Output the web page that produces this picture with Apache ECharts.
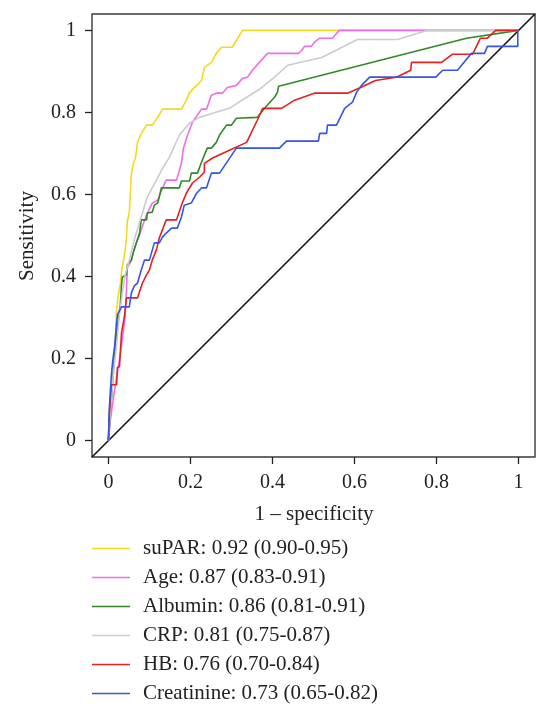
<!DOCTYPE html>
<html>
<head>
<meta charset="utf-8">
<script src="https://cdn.jsdelivr.net/npm/echarts@6/dist/echarts.min.js"></script>
<style>
html,body{margin:0;padding:0;background:#fff;}
#chart{width:550px;height:715px;}
</style>
</head>
<body>
<div id="chart"></div>
<script>
// ---- data ----
var seriesNames = [
  'suPAR: 0.92 (0.90-0.95)',
  'Age: 0.87 (0.83-0.91)',
  'Albumin: 0.86 (0.81-0.91)',
  'CRP: 0.81 (0.75-0.87)',
  'HB: 0.76 (0.70-0.84)',
  'Creatinine: 0.73 (0.65-0.82)'
];
var tickValues = [0, 0.2, 0.4, 0.6, 0.8, 1];
var diagonal = [[-0.04, -0.04], [1.04, 1.04]];

var suPAR = [[0,0],[0.002,0.051],[0.007,0.100],[0.012,0.173],[0.017,0.246],[0.020,0.319],[0.024,0.355],[0.029,0.380],[0.032,0.411],[0.037,0.440],[0.041,0.465],[0.044,0.494],[0.046,0.533],[0.051,0.557],[0.054,0.611],[0.056,0.652],[0.061,0.676],[0.066,0.689],[0.071,0.727],[0.080,0.749],[0.093,0.769],[0.107,0.769],[0.120,0.788],[0.132,0.808],[0.178,0.808],[0.190,0.830],[0.198,0.849],[0.215,0.866],[0.227,0.878],[0.234,0.910],[0.251,0.922],[0.263,0.944],[0.276,0.959],[0.302,0.959],[0.327,1],[1,1]];

var age = [[0,0],[0.005,0.051],[0.010,0.088],[0.017,0.136],[0.027,0.197],[0.037,0.270],[0.041,0.307],[0.044,0.367],[0.046,0.421],[0.056,0.440],[0.061,0.460],[0.068,0.482],[0.076,0.501],[0.083,0.523],[0.093,0.550],[0.102,0.569],[0.107,0.579],[0.120,0.586],[0.132,0.616],[0.141,0.635],[0.166,0.635],[0.178,0.676],[0.183,0.713],[0.193,0.745],[0.205,0.776],[0.227,0.808],[0.239,0.808],[0.251,0.842],[0.263,0.847],[0.278,0.847],[0.290,0.861],[0.312,0.866],[0.327,0.883],[0.339,0.886],[0.351,0.903],[0.368,0.922],[0.388,0.944],[0.463,0.944],[0.471,0.951],[0.478,0.961],[0.495,0.961],[0.502,0.971],[0.515,0.981],[0.546,0.981],[0.563,1],[1,1]];

var albumin = [[0,0],[0.005,0.075],[0.010,0.136],[0.015,0.209],[0.020,0.258],[0.024,0.294],[0.029,0.331],[0.032,0.380],[0.034,0.399],[0.044,0.404],[0.046,0.428],[0.056,0.440],[0.061,0.460],[0.068,0.482],[0.076,0.506],[0.080,0.538],[0.093,0.538],[0.095,0.555],[0.107,0.557],[0.112,0.574],[0.120,0.579],[0.124,0.594],[0.129,0.616],[0.173,0.616],[0.178,0.633],[0.198,0.633],[0.202,0.652],[0.217,0.652],[0.229,0.684],[0.241,0.713],[0.251,0.713],[0.263,0.727],[0.271,0.745],[0.288,0.769],[0.300,0.769],[0.312,0.786],[0.363,0.788],[0.385,0.815],[0.405,0.837],[0.412,0.849],[0.415,0.864],[0.873,0.981],[1,1]];

var crp = [[0,0],[0.005,0.075],[0.012,0.161],[0.020,0.234],[0.027,0.307],[0.034,0.360],[0.041,0.404],[0.051,0.440],[0.063,0.489],[0.076,0.533],[0.095,0.594],[0.117,0.635],[0.132,0.664],[0.149,0.691],[0.173,0.745],[0.198,0.774],[0.222,0.788],[0.254,0.798],[0.295,0.810],[0.337,0.837],[0.368,0.856],[0.405,0.886],[0.437,0.915],[0.520,0.934],[0.607,0.978],[0.705,0.978],[0.776,1],[1,1]];

var hb = [[0,0],[0.002,0.058],[0.007,0.136],[0.020,0.136],[0.022,0.178],[0.027,0.180],[0.032,0.263],[0.039,0.302],[0.044,0.348],[0.071,0.348],[0.083,0.384],[0.093,0.404],[0.100,0.416],[0.107,0.440],[0.117,0.465],[0.124,0.494],[0.141,0.538],[0.166,0.538],[0.180,0.579],[0.190,0.603],[0.205,0.628],[0.222,0.642],[0.234,0.655],[0.234,0.676],[0.254,0.689],[0.295,0.708],[0.337,0.727],[0.363,0.781],[0.376,0.810],[0.422,0.810],[0.454,0.830],[0.502,0.847],[0.583,0.847],[0.615,0.861],[0.651,0.878],[0.702,0.886],[0.737,0.903],[0.739,0.922],[0.812,0.922],[0.839,0.942],[0.888,0.942],[0.907,0.981],[0.924,0.981],[0.944,1],[1,1]];

var creatinine = [[0,0],[0.002,0.075],[0.007,0.156],[0.010,0.190],[0.015,0.229],[0.020,0.287],[0.022,0.307],[0.032,0.326],[0.051,0.326],[0.056,0.360],[0.063,0.377],[0.071,0.384],[0.080,0.416],[0.088,0.440],[0.100,0.440],[0.112,0.482],[0.124,0.482],[0.132,0.496],[0.141,0.506],[0.154,0.518],[0.168,0.518],[0.178,0.545],[0.185,0.574],[0.202,0.579],[0.215,0.603],[0.227,0.616],[0.239,0.616],[0.251,0.652],[0.271,0.652],[0.312,0.713],[0.417,0.713],[0.434,0.730],[0.512,0.730],[0.515,0.749],[0.532,0.749],[0.534,0.769],[0.556,0.769],[0.576,0.810],[0.595,0.825],[0.605,0.849],[0.617,0.866],[0.637,0.886],[0.798,0.886],[0.815,0.903],[0.851,0.903],[0.885,0.944],[0.917,0.944],[0.924,0.961],[0.998,0.961],[0.998,1],[1,1]];

var curves = [suPAR, age, albumin, crp, hb, creatinine];
var colors = ['#f5d91c', '#ee6ee8', '#2f8a25', '#c9cdcd', '#e5201f', '#3456e6'];

// ---- chart ----
var FONT = 'Liberation Serif';
var chart = echarts.init(document.getElementById('chart'), null, {renderer: 'canvas'});

var series = [{
  name: 'diag',
  type: 'line',
  data: diagonal,
  symbol: 'none',
  silent: true,
  lineStyle: {color: '#111', width: 1.6},
  z: 1
}];
curves.forEach(function (c, i) {
  series.push({
    name: seriesNames[i],
    type: 'line',
    data: c,
    symbol: 'none',
    showSymbol: false,
    lineStyle: {color: colors[i], width: 1.6},
    itemStyle: {color: colors[i]},
    z: 2 + i
  });
});

var axisCommon = {
  type: 'value',
  min: -0.04,
  max: 1.04,
  splitLine: {show: false},
  axisLine: {show: false, onZero: false},
  axisTick: {show: true, length: 7, customValues: tickValues, lineStyle: {color: '#222', width: 1.3}},
  axisLabel: {customValues: tickValues, color: '#222', fontFamily: FONT, fontSize: 20, margin: 16,
    formatter: function (v) { return String(Math.round(v * 10) / 10); }}
};

chart.setOption({
  animation: false,
  backgroundColor: '#fff',
  grid: {left: 92, top: 14, right: 15, bottom: 258, show: true, borderColor: '#3a3a3a', borderWidth: 1.4, backgroundColor: 'transparent'},
  xAxis: Object.assign({}, axisCommon, {position: 'bottom'}),
  yAxis: Object.assign({}, axisCommon, {position: 'left', axisLabel: Object.assign({}, axisCommon.axisLabel, {margin: 16})}),
  legend: {
    data: seriesNames,
    orient: 'vertical',
    left: 92,
    top: 538,
    padding: 0,
    itemWidth: 38,
    itemHeight: 14,
    itemGap: 8,
    icon: 'path://M0,6 L38,6 L38,7.6 L0,7.6 Z',
    selectedMode: false,
    textStyle: {fontFamily: FONT, fontSize: 21, color: '#222', lineHeight: 21, padding: [0, 0, 0, 8]}
  },
  graphic: [
    {type: 'text', style: {text: '1 \u2013 specificity', fontFamily: FONT, fontSize: 21, fill: '#222', textAlign: 'center', textVerticalAlign: 'middle'}, x: 314, y: 514},
    {type: 'text', style: {text: 'Sensitivity', fontFamily: FONT, fontSize: 21, fill: '#222', textAlign: 'center', textVerticalAlign: 'middle'}, x: 27, y: 236, rotation: Math.PI / 2}
  ],
  series: series
});
</script>
</body>
</html>
